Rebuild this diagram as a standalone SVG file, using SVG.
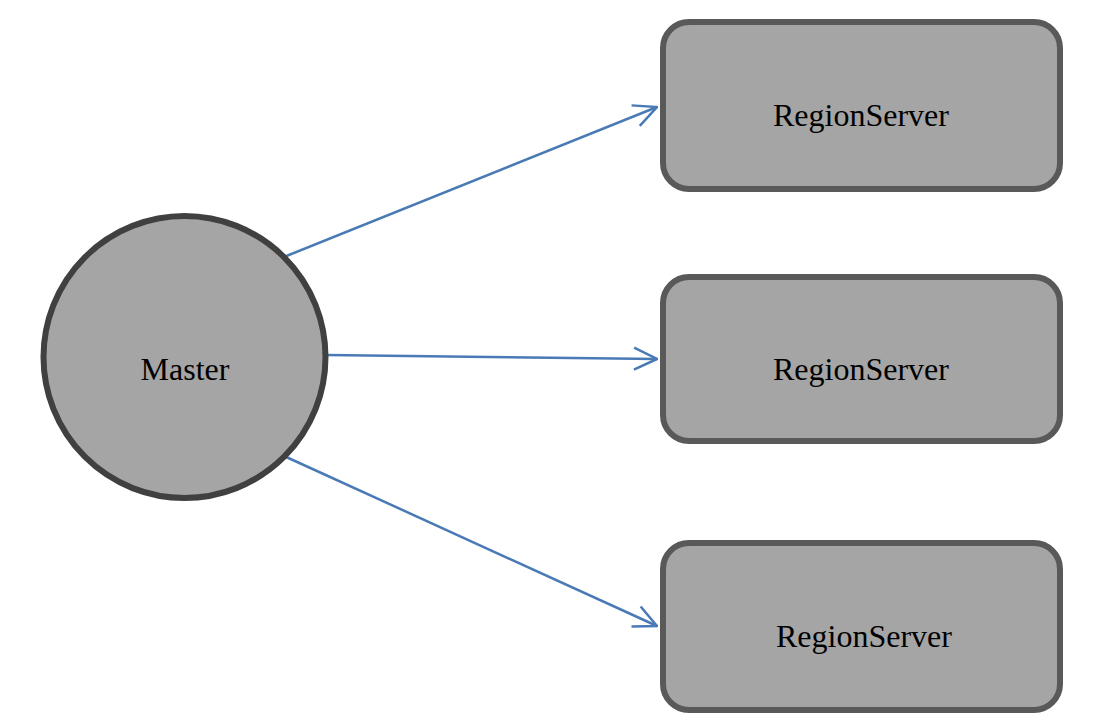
<svg xmlns="http://www.w3.org/2000/svg" width="1120" height="718" viewBox="0 0 1120 718">
<style>
.box{fill:#a5a5a5;stroke:#595959;stroke-width:6}
.circ{fill:#a5a5a5;stroke:#404040;stroke-width:6}
.lbl{font-family:"Liberation Serif","Times New Roman",serif;font-size:32px;fill:#000;text-anchor:middle}
.edge{stroke:#4a7ab5;stroke-width:2.5;fill:none}
</style>
<defs>
<marker id="arr" viewBox="0 0 26 26" refX="25" refY="13" markerWidth="26" markerHeight="26" markerUnits="userSpaceOnUse" orient="auto">
<path d="M2,2 L25,13 L2,24" fill="none" stroke="#4a7ab5" stroke-width="2.5" stroke-linejoin="miter"/>
</marker>
</defs>
<rect width="1120" height="718" fill="#fff"/>
<g id="connectors">
<line class="edge" x1="284" y1="257" x2="657" y2="107" marker-end="url(#arr)"/>
<line class="edge" x1="326" y1="355" x2="657" y2="359" marker-end="url(#arr)"/>
<line class="edge" x1="284" y1="456" x2="657" y2="626" marker-end="url(#arr)"/>
</g>
<g id="master">
<circle class="circ" cx="184.5" cy="357" r="141"/>
<text class="lbl" x="185" y="380">Master</text>
</g>
<g id="rs1">
<rect class="box" x="663" y="22" width="397" height="167" rx="26"/>
<text class="lbl" x="861" y="126">RegionServer</text>
</g>
<g id="rs2">
<rect class="box" x="663" y="277" width="397" height="164" rx="26"/>
<text class="lbl" x="861" y="380">RegionServer</text>
</g>
<g id="rs3">
<rect class="box" x="663" y="543" width="397" height="167" rx="26"/>
<text class="lbl" x="864" y="647">RegionServer</text>
</g>
</svg>
